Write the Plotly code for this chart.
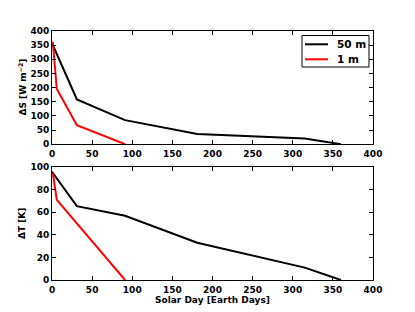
import plotly.graph_objects as go
from plotly.subplots import make_subplots

# Data
day_50m = [0, 31, 91, 181, 315, 360]
dS_50m = [357, 158, 85, 36, 20, 0]
dT_50m = [96, 65.5, 57, 33, 11, 0]

day_1m = [1, 6, 31, 91]
dS_1m = [362, 195, 67, 0]
day_1m_T = [1, 6, 91]
dT_1m = [95, 71, 0]

series_names = ["50 m", "1 m"]
series_colors = ["black", "red"]

xticks = [0, 50, 100, 150, 200, 250, 300, 350, 400]

OFF = 8  # page body margin
W, H = 415 - OFF, 312 - OFF
L, R, T, B = 52 - OFF, 42, 31 - OFF, 32
pw, ph = W - L - R, H - T - B

fig = make_subplots(rows=2, cols=1, vertical_spacing=0.09)

fig.add_trace(go.Scatter(x=day_50m, y=dS_50m, mode="lines", name=series_names[0],
                         line=dict(color=series_colors[0], width=2)), row=1, col=1)
fig.add_trace(go.Scatter(x=day_1m, y=dS_1m, mode="lines", name=series_names[1],
                         line=dict(color=series_colors[1], width=2)), row=1, col=1)
fig.add_trace(go.Scatter(x=day_50m, y=dT_50m, mode="lines", name=series_names[0],
                         line=dict(color=series_colors[0], width=2)), row=2, col=1)
fig.add_trace(go.Scatter(x=day_1m_T, y=dT_1m, mode="lines", name=series_names[1],
                         line=dict(color=series_colors[1], width=2)), row=2, col=1)

tickfont = dict(family="DejaVu Sans", size=9, color="black", weight="bold")
axcommon = dict(showline=True, linecolor="black", linewidth=1, mirror="allticks",
                ticks="inside", ticklen=4, tickcolor="black", showgrid=False,
                zeroline=False, tickfont=tickfont, automargin=False)

fig.update_xaxes(range=[0, 400], tickvals=xticks, domain=[0, 1], ticklabelstandoff=1, **axcommon)
fig.update_yaxes(**axcommon)
fig.update_yaxes(range=[0, 400], dtick=50, domain=[0.5455, 1], row=1, col=1)
fig.update_yaxes(range=[0, 100], dtick=20, domain=[0, 0.453], row=2, col=1)

titlefont = dict(family="DejaVu Sans", size=9, color="black", weight="bold")

# positions given in reference-window pixels
def px_x(px):
    return (px - OFF - L) / pw

def px_y(py):
    return (H - B - (py - OFF)) / ph

annotations = [
    dict(text="ΔS [W m<sup>−2</sup>]", x=px_x(22), y=px_y(87.5), textangle=-90,
         xanchor="center", yanchor="middle", font=titlefont),
    dict(text="ΔT [K]", x=px_x(22), y=px_y(224), textangle=-90,
         xanchor="center", yanchor="middle", font=titlefont),
    dict(text="Solar Day [Earth Days]", x=px_x(212), y=px_y(299.5), textangle=0,
         xanchor="center", yanchor="middle", font=titlefont),
]

# compact legend box (matplotlib style)
legfont = dict(family="DejaVu Sans", size=10.5, color="black", weight="bold")
shapes = [dict(type="rect", xref="paper", yref="paper",
               x0=px_x(302), x1=px_x(369), y0=px_y(67), y1=px_y(35.5),
               line=dict(color="black", width=1), fillcolor="white", layer="above")]
for i, (nm, col) in enumerate(zip(series_names, series_colors)):
    yy = 44.3 + 15 * i
    shapes.append(dict(type="line", xref="paper", yref="paper",
                       x0=px_x(305), x1=px_x(328), y0=px_y(yy), y1=px_y(yy),
                       line=dict(color=col, width=2), layer="above"))
    annotations.append(dict(text=nm, x=px_x(335), y=px_y(yy), xanchor="left",
                            yanchor="middle", font=legfont))

for a in annotations:
    a.update(xref="paper", yref="paper", showarrow=False)

fig.update_layout(
    width=W, height=H,
    margin=dict(l=L, r=R, t=T, b=B),
    paper_bgcolor="white", plot_bgcolor="white",
    annotations=annotations, shapes=shapes, showlegend=False,
)

fig.write_html("out.html")
